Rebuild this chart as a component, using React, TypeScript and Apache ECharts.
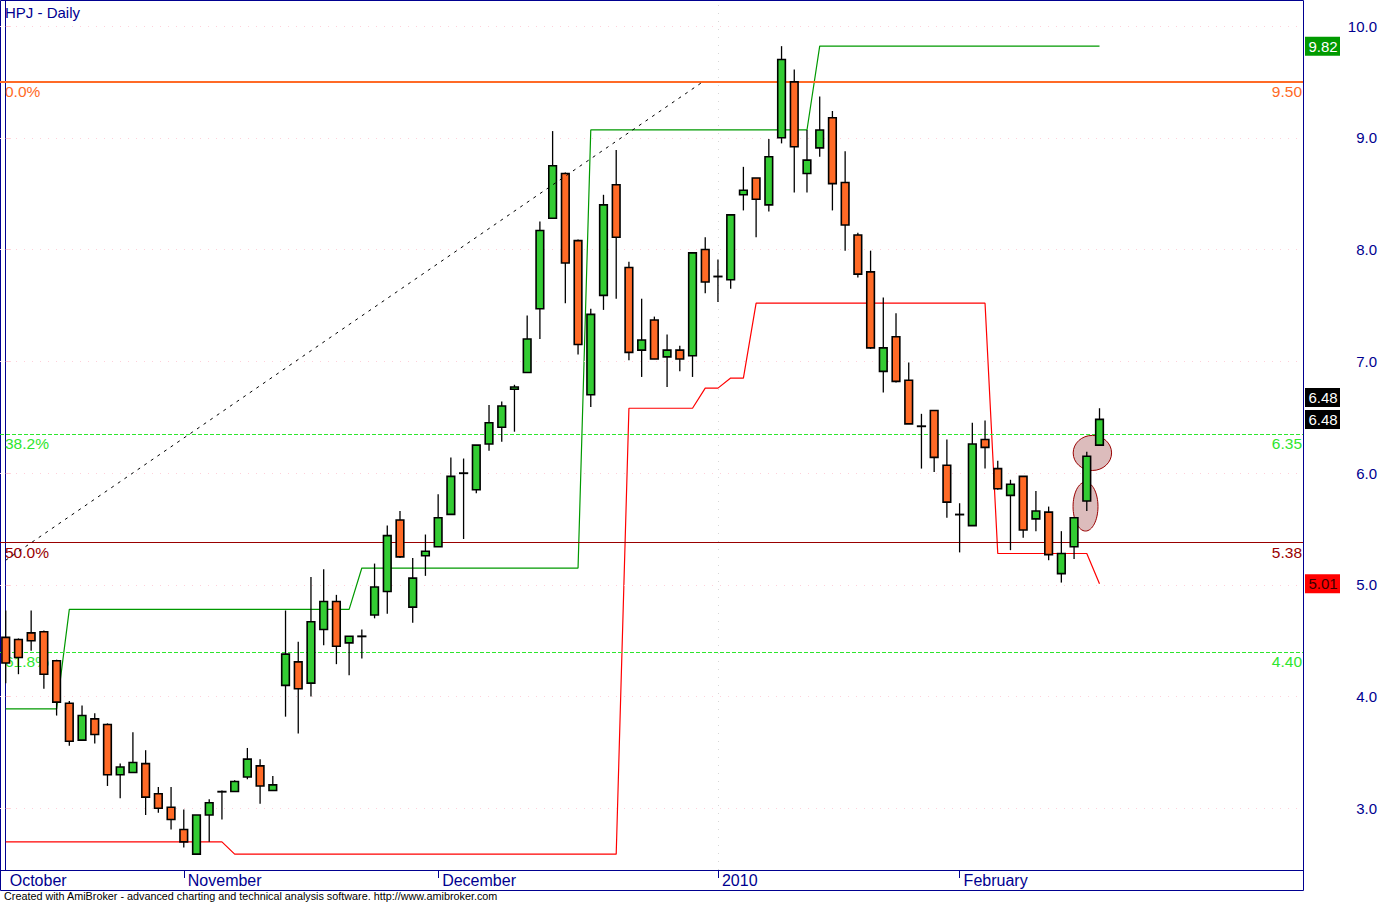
import React, { useEffect, useRef } from "react";
import * as echarts from "echarts";

// ---------------- data ----------------
const TITLE = "HPJ - Daily";
const FOOTER =
  "Created with AmiBroker - advanced charting and technical analysis software. http://www.amibroker.com";

const opens = [
  4.53, 4.51, 4.57, 4.58, 4.32, 3.94, 3.61, 3.8, 3.75, 3.3, 3.32, 3.4, 3.13, 3.01, 2.81, 2.59, 2.94, 3.15, 3.15, 3.28,
  3.38, 3.16, 4.1, 4.31, 4.12, 4.6, 4.85, 4.48, 4.54, 4.73, 4.94, 5.58, 4.8, 5.26, 5.34, 5.63, 6.0, 5.85, 6.26, 6.41,
  6.75, 6.9, 7.47, 8.28, 8.68, 8.08, 6.7, 7.59, 8.58, 7.84, 7.1, 7.37, 7.04, 7.1, 7.05, 8.0, 7.76, 7.73, 8.49, 8.64,
  8.4, 9.0, 9.5, 8.68, 8.91, 9.18, 8.6, 8.13, 7.8, 6.91, 7.22, 6.83, 6.42, 6.56, 6.07, 5.63, 5.53, 6.3, 6.04, 5.8,
  5.97, 5.59, 5.65, 5.1, 5.34, 5.75, 6.25,
];
const highs = [
  4.77, 4.52, 4.77, 4.59, 4.33, 3.96, 3.92, 3.85, 3.76, 3.4, 3.68, 3.52, 3.19, 3.19, 2.99, 2.94, 3.08, 3.16, 3.25, 3.54,
  3.44, 3.29, 4.77, 4.49, 5.07, 5.14, 4.91, 4.54, 4.6, 5.19, 5.53, 5.66, 5.24, 5.45, 5.81, 6.14, 6.13, 6.25, 6.61, 6.64,
  6.79, 7.41, 8.25, 9.06, 8.69, 8.09, 7.47, 8.49, 8.89, 7.89, 7.56, 7.4, 7.24, 7.14, 7.97, 8.11, 7.91, 8.31, 8.74, 8.64,
  8.99, 9.82, 9.61, 9.07, 9.37, 9.24, 8.88, 8.15, 7.99, 7.57, 7.43, 6.99, 6.53, 6.56, 6.3, 5.73, 6.45, 6.47, 6.11, 5.94,
  5.97, 5.84, 5.7, 5.48, 5.6, 6.19, 6.58,
];
const lows = [
  4.12, 4.2, 4.41, 4.07, 3.83, 3.56, 3.61, 3.58, 3.2, 3.09, 3.32, 2.94, 2.96, 2.81, 2.65, 2.59, 2.7, 2.9, 3.15, 3.26,
  3.04, 3.16, 3.82, 3.67, 4.0, 4.46, 4.29, 4.19, 4.34, 4.7, 4.74, 5.24, 4.66, 5.08, 5.34, 5.63, 5.41, 5.82, 6.2, 6.28,
  6.37, 6.9, 7.2, 8.28, 7.52, 7.06, 6.59, 7.46, 7.56, 7.01, 6.86, 7.02, 6.77, 6.91, 6.86, 7.61, 7.53, 7.65, 8.35, 8.11,
  8.34, 8.95, 8.51, 8.51, 8.83, 8.35, 7.99, 7.75, 7.11, 6.72, 6.81, 6.44, 6.04, 6.01, 5.6, 5.29, 5.53, 6.04, 5.85, 5.31,
  5.42, 5.48, 5.22, 5.02, 5.23, 5.66, 6.25,
];
const closes = [
  4.3, 4.35, 4.5, 4.2, 3.95, 3.6, 3.83, 3.66, 3.3, 3.37, 3.41, 3.1, 3.0, 2.9, 2.7, 2.94, 3.05, 3.15, 3.24, 3.44,
  3.2, 3.21, 4.38, 4.07, 4.67, 4.85, 4.45, 4.54, 4.54, 4.98, 5.44, 5.25, 5.06, 5.3, 5.6, 5.97, 6.0, 6.25, 6.45, 6.6,
  6.77, 7.2, 8.17, 8.75, 7.88, 7.15, 7.42, 8.4, 8.11, 7.08, 7.19, 7.02, 7.1, 7.02, 7.97, 7.71, 7.76, 8.31, 8.53, 8.45,
  8.83, 9.7, 8.92, 8.8, 9.07, 8.59, 8.22, 7.78, 7.12, 7.12, 6.82, 6.44, 6.42, 6.14, 5.74, 5.63, 6.26, 6.23, 5.86, 5.9,
  5.49, 5.66, 5.27, 5.28, 5.6, 6.15, 6.48,
];

// upper (green) and lower (red) step lines, one value per session
const resistance = [
  3.89, 3.89, 3.89, 3.89, 3.89,
  4.78, 4.78, 4.78, 4.78, 4.78, 4.78, 4.78, 4.78, 4.78, 4.78, 4.78, 4.78, 4.78, 4.78, 4.78, 4.78, 4.78, 4.78, 4.78,
  4.78, 4.78, 4.78, 4.78,
  5.15, 5.15, 5.15, 5.15, 5.15, 5.15, 5.15, 5.15, 5.15, 5.15, 5.15, 5.15, 5.15, 5.15, 5.15, 5.15, 5.15, 5.15,
  9.07, 9.07, 9.07, 9.07, 9.07, 9.07, 9.07, 9.07, 9.07, 9.07, 9.07, 9.07, 9.07, 9.07, 9.07, 9.07, 9.07, 9.07,
  9.82, 9.82, 9.82, 9.82, 9.82, 9.82, 9.82, 9.82, 9.82, 9.82, 9.82, 9.82, 9.82, 9.82, 9.82, 9.82, 9.82, 9.82, 9.82,
  9.82, 9.82, 9.82, 9.82,
];
const support = [
  2.7, 2.7, 2.7, 2.7, 2.7, 2.7, 2.7, 2.7, 2.7, 2.7, 2.7, 2.7, 2.7, 2.7, 2.7, 2.7, 2.7, 2.7,
  2.59, 2.59, 2.59, 2.59, 2.59, 2.59, 2.59, 2.59, 2.59, 2.59, 2.59, 2.59, 2.59, 2.59, 2.59, 2.59, 2.59, 2.59, 2.59,
  2.59, 2.59, 2.59, 2.59, 2.59, 2.59, 2.59, 2.59, 2.59, 2.59, 2.59, 2.59,
  6.58, 6.58, 6.58, 6.58, 6.58, 6.58,
  6.76, 6.76,
  6.85, 6.85,
  7.52, 7.52, 7.52, 7.52, 7.52, 7.52, 7.52, 7.52, 7.52, 7.52, 7.52, 7.52, 7.52, 7.52, 7.52, 7.52, 7.52, 7.52, 7.52,
  5.28, 5.28, 5.28, 5.28, 5.28, 5.28, 5.28, 5.28,
  5.01,
];

// dashed trend line (session index, price)
const trendX = [0, 54.8];
const trendY = [5.22, 9.5];

// Fibonacci retracement levels
const fibNames = ["0.0%", "38.2%", "50.0%", "61.8%"];
const fibLevels = [9.5, 6.35, 5.38, 4.4];

// month boundaries (session index of first session)
const monthNames = ["October", "November", "December", "2010", "February"];
const monthStarts = [0, 14, 34, 56, 75];
const yearStart = 56;

// price axis labels
const yTicks = [3, 4, 5, 6, 7, 8, 9, 10];

// highlight ellipses (centre session, centre price, half-width in sessions, half-height in price)
const markX = [84.9, 85.44];
const markY = [5.7, 6.18];
const markRx = [0.98, 1.51];
const markRy = [0.219, 0.157];

// ---------------- styles ----------------
const FONT = '"Liberation Sans", Arial, sans-serif';
const NAVY = "#000090";
const UP = "#33cc33";
const DOWN = "#ff6a26";
const FIB_COLORS = ["#ff6a26", "#2ee62e", "#990000", "#2ee62e"];
const FIB_TYPES: any[] = ["solid", [4, 2], "solid", [4, 2]];
const FIB_WIDTHS = [2, 1, 1, 1];

const GRID_RIGHT_PX = 1303;
const GRID_BOTTOM_PX = 870;

export default function App() {
  const ref = useRef<HTMLDivElement>(null);

  useEffect(() => {
    const el = ref.current;
    if (!el) return;
    const chart = echarts.init(el, null, { renderer: "svg" });

    const candleData = opens.map((o, i) => [i, o, closes[i], lows[i], highs[i]]);
    const resData = resistance.map((v, i) => [i, v]);
    const supData = support.map((v, i) => [i, v]);
    const trendData = trendX.map((x, i) => [x, trendY[i]]);
    const markData = markX.map((x, i) => [x, markY[i], markRx[i], markRy[i]]);

    const option: any = {
      animation: false,
      backgroundColor: "#ffffff",
      grid: {
        left: 0,
        top: 0,
        right: 1380 - GRID_RIGHT_PX,
        bottom: 903 - GRID_BOTTOM_PX,
        containLabel: false,
        outerBoundsMode: "none",
        show: false,
      },
      xAxis: {
        type: "value",
        min: -0.45,
        max: 102,
        axisLine: { show: true, onZero: false, lineStyle: { color: NAVY, width: 1 } },
        axisTick: {
          show: true,
          customValues: monthStarts.slice(1),
          length: 8,
          lineStyle: { color: NAVY, width: 1 },
        },
        axisLabel: {
          show: true,
          customValues: monthStarts,
          formatter: (v: number) => monthNames[monthStarts.indexOf(Math.round(v))] || "",
          color: NAVY,
          fontSize: 16,
          fontFamily: FONT,
          align: "left",
          margin: 2,
          padding: [0, 0, 0, 4],
        },
        splitLine: { show: false },
      },
      yAxis: {
        type: "value",
        position: "right",
        min: 2.448,
        max: 10.233,
        scale: true,
        axisLine: { show: true, lineStyle: { color: NAVY, width: 1 } },
        axisTick: {
          show: true,
          customValues: yTicks,
          length: 5,
          lineStyle: { color: "#ffc8d2", width: 1 },
        },
        axisLabel: {
          show: true,
          customValues: yTicks,
          formatter: (v: number) => v.toFixed(1),
          color: NAVY,
          fontSize: 15,
          fontFamily: FONT,
          align: "right",
          margin: 74,
        },
        splitLine: { show: false },
      },
      series: [
        {
          name: "marks",
          type: "custom",
          z: 2,
          silent: true,
          encode: { x: 0, y: 1 },
          data: markData,
          renderItem: (params: any, api: any) => {
            const c = api.coord([api.value(0), api.value(1)]);
            const s = api.size([api.value(2), api.value(3)]);
            return {
              type: "ellipse",
              shape: { cx: c[0], cy: c[1], rx: s[0], ry: s[1] },
              style: { fill: "#dcbcbc", stroke: "#990000", lineWidth: 1 },
            };
          },
        },
        {
          name: "support",
          type: "line",
          z: 3,
          silent: true,
          data: supData,
          showSymbol: false,
          symbol: "none",
          lineStyle: { color: "#ff0000", width: 1.2 },
          markLine: {
            silent: true,
            symbol: ["none", "none"],
            label: { show: false },
            animation: false,
            data: [
              ...yTicks.map((v) => ({
                yAxis: v,
                lineStyle: { color: "#ffd0da", width: 1, type: [1, 7] },
              })),
              { xAxis: yearStart, lineStyle: { color: "#d8d8d8", width: 1, type: [1, 7] } },
            ],
          },
        },
        {
          name: "resistance",
          type: "line",
          z: 3,
          silent: true,
          data: resData,
          showSymbol: false,
          symbol: "none",
          lineStyle: { color: "#009900", width: 1.2 },
        },
        {
          name: "HPJ",
          type: "custom",
          z: 10,
          silent: true,
          encode: { x: 0, y: [1, 2, 3, 4] },
          data: candleData,
          renderItem: (params: any, api: any) => {
            const x = api.value(0);
            const o = api.value(1);
            const c = api.value(2);
            const l = api.value(3);
            const h = api.value(4);
            const pO = api.coord([x, o]);
            const pC = api.coord([x, c]);
            const pL = api.coord([x, l]);
            const pH = api.coord([x, h]);
            const w = api.size([0.6, 0])[0];
            const top = Math.min(pO[1], pC[1]);
            const hgt = Math.max(Math.abs(pO[1] - pC[1]), 0.3);
            return {
              type: "group",
              children: [
                {
                  type: "line",
                  shape: { x1: pH[0], y1: pH[1], x2: pL[0], y2: pL[1] },
                  style: { stroke: "#000", lineWidth: 1.3 },
                },
                {
                  type: "rect",
                  shape: { x: pO[0] - w / 2, y: top, width: w, height: hgt },
                  style: { fill: c >= o ? UP : DOWN, stroke: "#000", lineWidth: 1.6 },
                },
              ],
            };
          },
        },
        {
          name: "trend",
          type: "line",
          z: 20,
          silent: true,
          data: trendData,
          showSymbol: false,
          symbol: "none",
          lineStyle: { color: "#000", width: 1, type: [3, 5] },
          markLine: {
            silent: true,
            symbol: ["none", "none"],
            label: { show: false },
            animation: false,
            data: fibLevels.map((v, i) => ({
              yAxis: v,
              lineStyle: { color: FIB_COLORS[i], width: FIB_WIDTHS[i], type: FIB_TYPES[i] },
            })),
          },
        },
      ],
    };

    chart.setOption(option);

    const toPx = (x: number, y: number) =>
      chart.convertToPixel({ xAxisIndex: 0, yAxisIndex: 0 }, [x, y]) as number[];

    const last = opens.length - 1;
    const tags = [
      { v: resistance[last], bg: "#009a00", fg: "#ffffff", dy: 0 },
      { v: closes[last], bg: "#000000", fg: "#ffffff", dy: -22 },
      { v: closes[last], bg: "#000000", fg: "#ffffff", dy: 0 },
      { v: support[last], bg: "#ff0000", fg: "#3a0000", dy: 0 },
    ];

    const graphics: any[] = [
      {
        type: "rect",
        z: 1,
        silent: true,
        shape: { x: 0.5, y: 0.5, width: GRID_RIGHT_PX, height: 890 },
        style: { fill: "none", stroke: NAVY, lineWidth: 1 },
      },
      {
        type: "text",
        z: 1,
        silent: true,
        x: 5,
        y: 12.5,
        style: { text: TITLE, fill: NAVY, font: `15px ${FONT}`, verticalAlign: "middle", align: "left" },
      },
      {
        type: "text",
        z: 1,
        silent: true,
        x: 4,
        y: 896,
        style: { text: FOOTER, fill: "#000", font: `10.8px ${FONT}`, verticalAlign: "middle", align: "left" },
      },
    ];

    fibLevels.forEach((lvl, i) => {
      const py = toPx(0, lvl)[1];
      graphics.push({
        type: "text",
        z: 1,
        silent: true,
        x: 5,
        y: py + 10,
        style: { text: fibNames[i], fill: FIB_COLORS[i], font: `15.5px ${FONT}`, verticalAlign: "middle", align: "left" },
      });
      graphics.push({
        type: "text",
        z: 1,
        silent: true,
        x: GRID_RIGHT_PX - 1,
        y: py + 10,
        style: { text: lvl.toFixed(2), fill: FIB_COLORS[i], font: `15.5px ${FONT}`, verticalAlign: "middle", align: "right" },
      });
    });

    tags.forEach((t) => {
      const py = toPx(0, t.v)[1] + t.dy;
      graphics.push({
        type: "rect",
        z: 5,
        silent: true,
        shape: { x: GRID_RIGHT_PX + 2, y: py - 9.5, width: 35, height: 19 },
        style: { fill: t.bg },
      });
      graphics.push({
        type: "text",
        z: 6,
        silent: true,
        x: GRID_RIGHT_PX + 20,
        y: py,
        style: { text: t.v.toFixed(2), fill: t.fg, font: `15px ${FONT}`, verticalAlign: "middle", align: "center" },
      });
    });

    chart.setOption({ graphic: graphics });

    return () => {
      chart.dispose();
    };
  }, []);

  return (
    <div
      ref={ref}
      style={{ position: "fixed", left: 0, top: 0, width: 1380, height: 903, background: "#ffffff" }}
    />
  );
}
